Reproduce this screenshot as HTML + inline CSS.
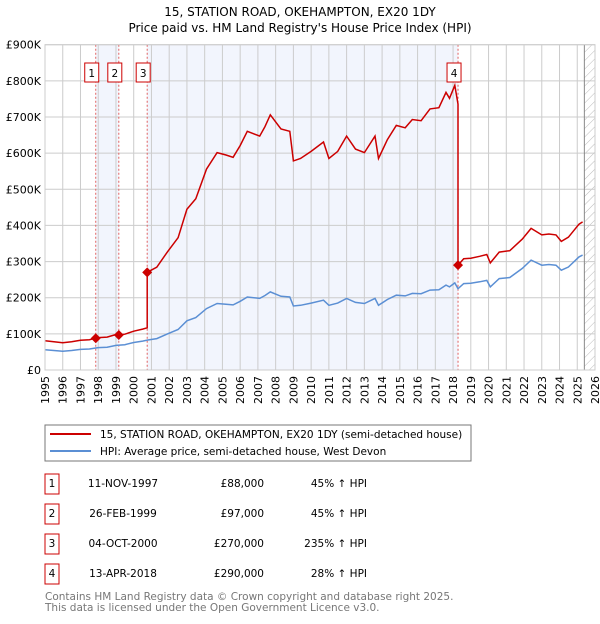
<!DOCTYPE html>
<html><head><meta charset="utf-8"><style>
body{margin:0;background:#fff;font-family:"DejaVu Sans","Liberation Sans",sans-serif;}
svg text{font-family:"DejaVu Sans","Liberation Sans",sans-serif;}
</style></head><body>
<svg id="chart" width="600" height="620" xmlns="http://www.w3.org/2000/svg">
<defs><pattern id="hatch" width="6" height="6" patternUnits="userSpaceOnUse" patternTransform="rotate(45)"><line x1="0" y1="0" x2="0" y2="6" stroke="#bbb" stroke-width="1"/></pattern></defs>
<text x="300" y="16" text-anchor="middle" font-size="12">15, STATION ROAD, OKEHAMPTON, EX20 1DY</text>
<text x="300" y="32" text-anchor="middle" font-size="12">Price paid vs. HM Land Registry's House Price Index (HPI)</text>
<g id="plot"></g>
<rect x="45" y="425" width="426" height="36" fill="#fff" stroke="#777"/>
<line x1="50" y1="434" x2="91" y2="434" stroke="#cc0000" stroke-width="2"/>
<text x="100" y="438" font-size="10.5">15, STATION ROAD, OKEHAMPTON, EX20 1DY (semi-detached house)</text>
<line x1="50" y1="451" x2="91" y2="451" stroke="#5b8fd4" stroke-width="2"/>
<text x="100" y="455" font-size="10.5">HPI: Average price, semi-detached house, West Devon</text>
<g id="table" font-size="10.5"></g>
<text x="45" y="600" font-size="10.5" fill="#777">Contains HM Land Registry data © Crown copyright and database right 2025.</text>
<text x="45" y="611" font-size="10.5" fill="#777">This data is licensed under the Open Government Licence v3.0.</text>
</svg>
<script>
const hpiYears=[1995,1995.5,1996,1996.5,1997,1997.5,1998,1998.5,1999,1999.5,2000,2000.5,2000.8,2001.3,2001.9,2002.5,2003,2003.5,2004.1,2004.7,2005.2,2005.6,2006,2006.4,2007.1,2007.4,2007.7,2008.3,2008.8,2009,2009.4,2010,2010.7,2011,2011.5,2012,2012.5,2013,2013.6,2013.8,2014.3,2014.8,2015.3,2015.7,2016.2,2016.7,2017.2,2017.6,2017.8,2018.1,2018.28,2018.6,2019,2019.5,2019.9,2020.1,2020.6,2021.2,2021.9,2022.4,2023,2023.4,2023.8,2024.1,2024.5,2025.1,2025.3];
const hpiValues=[56,54,52,54,57,58,62,63,68,70,76,80,83,87,100,112,136,145,170,184,182,180,190,202,198,206,216,204,202,177,179,185,193,179,185,198,187,184,198,179,195,207,205,212,211,221,222,235,230,241,225,239,240,244,248,230,253,256,281,304,290,292,290,276,285,313,318];
const saleYears=[1997.86,1999.16,2000.76,2018.28];
const salePrices=[88,97,270,290];
const saleLabels=["1","2","3","4"];
const saleDates=["11-NOV-1997","26-FEB-1999","04-OCT-2000","13-APR-2018"];
const salePriceText=["£88,000","£97,000","£270,000","£290,000"];
const saleHpiText=["45% ↑ HPI","45% ↑ HPI","235% ↑ HPI","28% ↑ HPI"];
const yTicks=[0,100,200,300,400,500,600,700,800,900];
const yTickLabels=["£0","£100K","£200K","£300K","£400K","£500K","£600K","£700K","£800K","£900K"];
const xTicks=[1995,1996,1997,1998,1999,2000,2001,2002,2003,2004,2005,2006,2007,2008,2009,2010,2011,2012,2013,2014,2015,2016,2017,2018,2019,2020,2021,2022,2023,2024,2025,2026];

const NS="http://www.w3.org/2000/svg";
const X0=45,X1=595,Y0=370,Y1=44.7;
const xs=y=>X0+(y-1995)/31*(X1-X0);
const ys=v=>Y0-v/900*(Y0-Y1);
function mk(tag,attrs,parent){const e=document.createElementNS(NS,tag);for(const k in attrs)e.setAttribute(k,attrs[k]);parent.appendChild(e);return e;}
function hpiAt(t){if(t<=hpiYears[0])return hpiValues[0];for(let i=1;i<hpiYears.length;i++){if(t<=hpiYears[i]){const f=(t-hpiYears[i-1])/(hpiYears[i]-hpiYears[i-1]);return hpiValues[i-1]+f*(hpiValues[i]-hpiValues[i-1]);}}return hpiValues[hpiValues.length-1];}
const g=document.getElementById('plot');
for(const [a,b] of [[0,1],[2,3]]){const r=mk('rect',{x:xs(saleYears[a]),y:Y1,width:xs(saleYears[b])-xs(saleYears[a]),height:Y0-Y1,fill:'#eef2fc',opacity:0.75},g);

}
const HX=xs(2025.4);
const hr=mk('rect',{x:HX,y:Y1,width:X1-HX,height:Y0-Y1,fill:'url(#hatch)'},g);


xTicks.forEach((t,i)=>{const l=mk('line',{x1:xs(t),x2:xs(t),y1:Y1,y2:Y0,stroke:'#cccccc'},g);


const wrap=mk('g',{transform:'translate('+(xs(t)+4).toFixed(1)+',376) rotate(-90)'},g);
const tx=mk('text',{x:0,y:0,'text-anchor':'end','font-size':'11'},wrap);tx.textContent=t;

});
yTicks.forEach((v,i)=>{const l=mk('line',{x1:X0,x2:X1,y1:ys(v),y2:ys(v),stroke:'#cccccc'},g);


const tx=mk('text',{x:41,y:ys(v)+4,'text-anchor':'end','font-size':'11'},g);tx.textContent=yTickLabels[i];

});
const vl=mk('line',{x1:HX,x2:HX,y1:Y1,y2:Y0,stroke:'#888'},g);


saleYears.forEach((t,i)=>{const l=mk('line',{x1:xs(t),x2:xs(t),y1:Y1,y2:Y0,stroke:'#e06060','stroke-dasharray':'2,2'},g);

});
let d=hpiYears.map((t,i)=>(i?'L':'M')+xs(t).toFixed(1)+','+ys(hpiValues[i]).toFixed(1)).join('');
const hp=mk('path',{d:d,fill:'none',stroke:'#5b8fd4','stroke-width':1.5},g);


const times=hpiYears.slice();saleYears.forEach(t=>{times.push(t-0.001);times.push(t);});times.sort((a,b)=>a-b);
let pd='';times.forEach((t,i)=>{let k=0;for(let j=0;j<saleYears.length;j++)if(t>=saleYears[j])k=j;
const ratio=salePrices[k]/hpiAt(saleYears[k]);const v=hpiAt(t)*ratio;pd+=(i?'L':'M')+xs(t).toFixed(1)+','+ys(v).toFixed(1);});
const pp=mk('path',{d:pd,fill:'none',stroke:'#cc0000','stroke-width':1.5},g);


saleYears.forEach((t,i)=>{const cx=xs(t),cy=ys(salePrices[i]);
const m=mk('path',{d:`M${cx},${cy-5}L${cx+5},${cy}L${cx},${cy+5}L${cx-5},${cy}Z`,fill:'#cc0000'},g);


const b=mk('rect',{x:cx-11,y:63,width:14,height:19,fill:'#fff',stroke:'#cc0000'},g);


const tx=mk('text',{x:cx-4,y:77,'text-anchor':'middle','font-size':'10.5'},g);tx.textContent=saleLabels[i];

});
const fr=mk('rect',{x:X0,y:Y1,width:X1-X0,height:Y0-Y1,fill:'none',stroke:'#cccccc'},g);


const tb=document.getElementById('table');
saleLabels.forEach((s,i)=>{const yc=483+i*30;
const b=mk('rect',{x:45,y:yc-9,width:14,height:20,fill:'#fff',stroke:'#cc0000'},tb);


const cells=[[52,'middle',s],[123,'middle',saleDates[i]],[264,'end',salePriceText[i]],[367,'end',saleHpiText[i]]];
cells.forEach(c=>{const tx=mk('text',{x:c[0],y:yc+4,'text-anchor':c[1]},tb);tx.textContent=c[2];

});});
</script>
</body></html>
